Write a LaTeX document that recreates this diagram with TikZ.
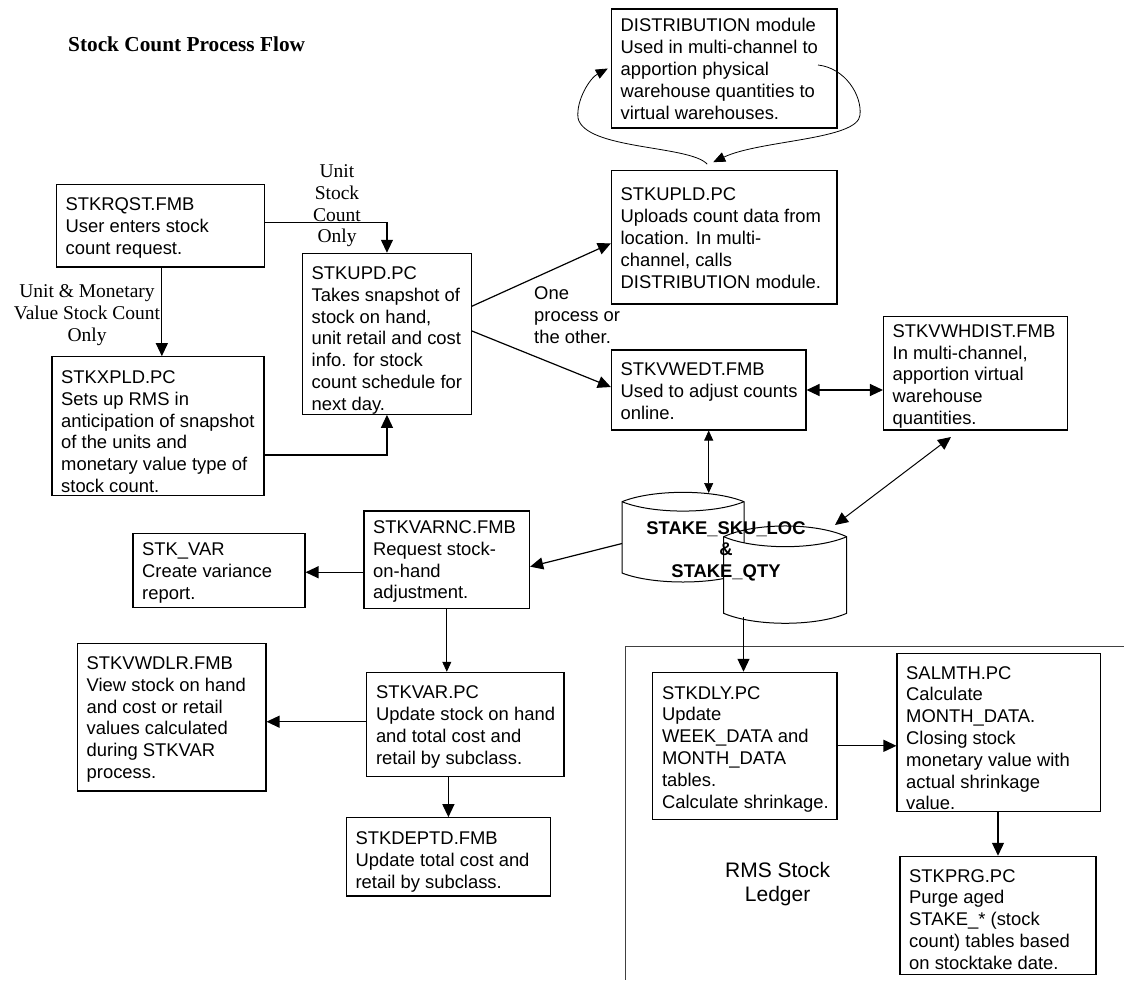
\documentclass[tikz,border=0pt]{standalone}
\usepackage{fontspec}
\setmainfont{Liberation Serif}
\newfontfamily\arialfam{Liberation Sans}
\usetikzlibrary{arrows.meta,calc}

\newcommand\bodyfont{\arialfam\fontsize{18.4}{21.8}\selectfont}
\newcommand\labelfont{\fontsize{19.5}{21.7}\selectfont}
\newcommand\titlefont{\fontsize{21.3}{25}\selectfont\bfseries}
\newcommand\ledgerfont{\arialfam\fontsize{21}{24}\selectfont}

\tikzset{
  frame/.style={draw, line width=1.1pt, inner sep=0pt},
  boxtext/.style={anchor=north west, inner sep=0pt, font=\bodyfont},
  link/.style={line width=1.2pt, -{Triangle[length=13pt,width=12pt]}},
  twoway/.style={line width=1.2pt, {Triangle[length=13pt,width=12pt]}-{Triangle[length=13pt,width=12pt]}},
  thinlink/.style={line width=0.7pt, -{Triangle[length=10pt,width=9pt]}},
  thintwoway/.style={line width=0.7pt, {Triangle[length=10pt,width=9pt]}-{Triangle[length=10pt,width=9pt]}},
  looplink/.style={line width=0.8pt, -{Triangle[length=12pt,width=10pt]}},
}

% process box: name, x1, y1, x2, y2, centre of first text line, lines
\newcommand\procbox[7]{%
  \node[frame, minimum width={(#4)-(#2)}, minimum height={(#5)-(#3)}] (#1)
    at ({((#2)+(#4))/2},{((#3)+(#5))/2}) {};
  \node[boxtext] (#1-txt) at ({(#2)+9},{(#6)-8.66})
    {\begin{tabular}[t]{@{}l@{}}#7\end{tabular}};
}

\begin{document}
\begin{tikzpicture}[x=1pt,y=-1pt]
\useasboundingbox[fill=white] (0,0) rectangle (1124,980);

% ledger frame
\draw[black!75, line width=0.9pt] (1124,646.7) -- (625.5,646.7) -- (625.5,980);

\node[anchor=west, inner sep=0pt, font=\titlefont] (title) at (68,44) {Stock Count Process Flow};

\procbox{rqst}{56.4}{184.3}{264.3}{267}{204}{STKRQST.FMB\\User enters stock\\count request.}
\procbox{upd}{302.5}{253.3}{471.4}{414.3}{272.7}{STKUPD.PC\\Takes snapshot of\\stock on hand,\\unit retail and cost\\info. for stock\\count schedule for\\next day.}
\procbox{xpld}{52}{356.7}{264}{495.7}{376.7}{STKXPLD.PC\\Sets up RMS in\\anticipation of snapshot\\of the units and\\monetary value type of\\stock count.}
\procbox{dist}{611.4}{9}{837}{128}{25}{DISTRIBUTION module\\Used in multi-channel to\\apportion physical\\warehouse quantities to\\virtual warehouses.}
\procbox{upld}{611.4}{170.7}{837}{304}{194}{STKUPLD.PC\\Uploads count data from\\location. In multi-\\channel, calls\\DISTRIBUTION module.}
\procbox{vwedt}{611.4}{350}{806}{430}{369}{STKVWEDT.FMB\\Used to adjust counts\\online.}
\procbox{vwhd}{883.5}{316.3}{1067.5}{430}{330.5}{STKVWHDIST.FMB\\In multi-channel,\\apportion virtual\\warehouse\\quantities.}
\procbox{varnc}{364}{511}{529.6}{608.3}{526.7}{STKVARNC.FMB\\Request stock-\\on-hand\\adjustment.}
\procbox{skvar}{133}{533.3}{305}{607.7}{549}{STK\_VAR\\Create variance\\report.}
\procbox{vwdlr}{77.5}{643.3}{266}{791}{662.7}{STKVWDLR.FMB\\View stock on hand\\and cost or retail\\values calculated\\during STKVAR\\process.}
\procbox{var}{366.8}{672.3}{564}{776.3}{692}{STKVAR.PC\\Update stock on hand\\and total cost and\\retail by subclass.}
\procbox{deptd}{346.4}{817.7}{550.4}{896}{837.7}{STKDEPTD.FMB\\Update total cost and\\retail by subclass.}
\procbox{dly}{652.8}{672.3}{837}{819.3}{692.3}{STKDLY.PC\\Update\\WEEK\_DATA and\\MONTH\_DATA\\tables.\\Calculate shrinkage.}
\procbox{salmth}{897}{653.3}{1100.5}{811.7}{672.3}{SALMTH.PC\\Calculate\\MONTH\_DATA.\\Closing stock\\monetary value with\\actual shrinkage\\value.}
\procbox{prg}{900}{856.3}{1096}{974.5}{875.3}{STKPRG.PC\\Purge aged\\STAKE\_* (stock\\count) tables based\\on stocktake date.}

% data store: two overlapping drums
\filldraw[fill=white, line width=1pt]
  (622,501.7) .. controls (652.5,489.2) and (713.5,489.2) .. (744,501.7)
  -- (744,573) .. controls (713.5,585) and (652.5,585) .. (622,573) -- cycle;
\draw[line width=1pt] (622,501.7) .. controls (652.5,514.2) and (713.5,514.2) .. (744,501.7);
\fill[white]
  (723.7,536.7) .. controls (754.5,550) and (816,550) .. (846.7,536.7)
  -- (846.7,613.3) .. controls (816,626.6) and (754.5,626.6) .. (723.7,613.3) -- cycle;
\draw[line width=1pt]
  (723.7,536.7) .. controls (754.5,522.4) and (816,522.4) .. (846.7,536.7)
  -- (846.7,613.3) .. controls (816,626.6) and (754.5,626.6) .. (723.7,613.3) -- cycle;
\draw[line width=1pt] (723.7,536.7) .. controls (754.5,550) and (816,550) .. (846.7,536.7);
\node[anchor=north, inner sep=0pt, font=\bodyfont\bfseries] (dbtext) at (726,518.6)
  {\begin{tabular}[t]{@{}c@{}}STAKE\_SKU\_LOC\\\&\\STAKE\_QTY\end{tabular}};

\coordinate (db1-top) at (708.7,493);
\coordinate (db1-west) at (622,543.5);
\coordinate (db2-ne) at (835,525);
\coordinate (db2-bottom) at (743.5,617);
\coordinate (vwhd-foot) at (951,437);
\coordinate (dist-loop) at (818,65);

% edge labels
\node[anchor=north, inner sep=0pt, font=\labelfont] (unitonly) at (337,162.3)
  {\begin{tabular}[t]{@{}c@{}}Unit\\Stock\\Count\\Only\end{tabular}};
\node[anchor=north, inner sep=0pt, font=\labelfont] (monetary) at (87,282.3)
  {\begin{tabular}[t]{@{}c@{}}Unit \& Monetary\\Value Stock Count\\Only\end{tabular}};
\node[boxtext] (either) at (534,284.3)
  {\begin{tabular}[t]{@{}l@{}}One\\process or\\the other.\end{tabular}};
\node[anchor=north, inner sep=0pt, font=\ledgerfont] (ledger) at (777.6,860.7)
  {\begin{tabular}[t]{@{}c@{}}RMS Stock\\Ledger\end{tabular}};

% connectors
\draw[link] ([yshift=3pt]rqst.east) -| (upd.north);
\draw[link] ([xshift=1.5pt]rqst.south) -- ([xshift=1.5pt]rqst.south |- xpld.north);
\draw[link] ([yshift=-28.8pt]xpld.east) -| (upd.south);
\draw[link] ([yshift=27.6pt]upd.east) -- ([yshift=-6pt]upld.west);
\draw[link] ([yshift=2.8pt]upd.east) -- ([yshift=3pt]vwedt.west);
\draw[twoway] (vwedt.east) -- (vwedt.east -| vwhd.west);
\draw[thintwoway] (vwedt.south) -- (db1-top);
\draw[twoway, line width=1pt] (vwhd-foot) -- (db2-ne);
\draw[link] (db1-west) -- ([yshift=-7pt]varnc.east);
\draw[link] ([yshift=-12.6pt]varnc.west) -- ([yshift=-12.6pt]varnc.west -| skvar.east);
\draw[thinlink] (varnc.south) -- (varnc.south |- var.north);
\draw[link] ([yshift=2.6pt]var.west) -- ([yshift=2.6pt]var.west -| vwdlr.east);
\draw[link] (deptd.north |- var.south) -- (deptd.north);
\draw[link] (db2-bottom) -- (db2-bottom |- dly.north);
\draw[link] (dly.east) -- (dly.east -| salmth.west);
\draw[link] (prg.north |- salmth.south) -- (prg.north);

% DISTRIBUTION call loop
\draw[looplink] ([xshift=-17pt,yshift=6pt]upld.north)
  .. controls (690,145) and (585,150) .. (578,118)
  .. controls (576,100) and (590,78) .. ([xshift=-3pt]dist.west);
\draw[looplink] (dist-loop)
  .. controls (845,68) and (862,95) .. (860,115)
  .. controls (858,140) and (760,140) .. ([xshift=-11pt,yshift=8pt]upld.north);
\end{tikzpicture}
\end{document}
